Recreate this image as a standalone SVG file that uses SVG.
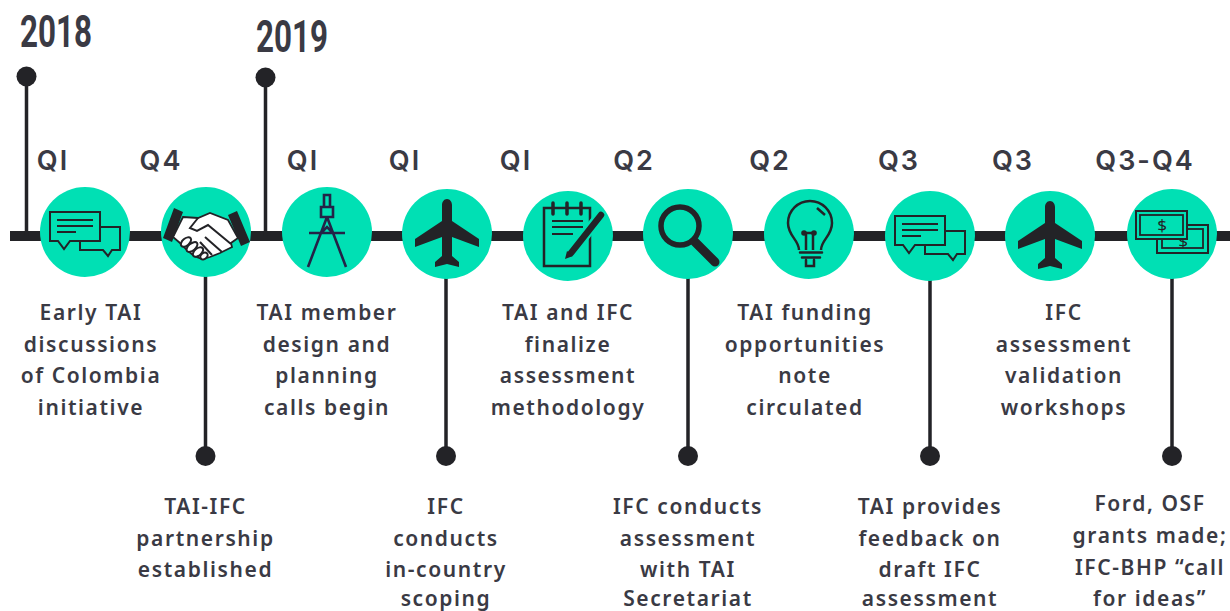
<svg xmlns="http://www.w3.org/2000/svg" width="1230" height="611" viewBox="0 0 1230 611">
<style>
text{font-family:"Noto Sans","Liberation Sans",sans-serif;fill:#3a3a44;text-anchor:middle}
.b{font-size:21px;font-weight:600;letter-spacing:1.6px}
.q{font-family:"Inter","Liberation Sans",sans-serif;font-size:27px;font-weight:600;letter-spacing:2px}
.y{font-family:"Roboto","Liberation Sans",sans-serif;font-size:44px;font-weight:700;text-anchor:start}
.disc{fill:#00e0b4}
.ln{fill:none;stroke:#232327;stroke-width:2}
.k{fill:#232327}
.conn{stroke:#232327;stroke-width:3.5;fill:none}
</style>
<defs>
<g id="chat"><path class="ln" d="M-35-20H15V9H-15L-21 17-27 9H-35Z"/><path class="ln" d="M15-5H35V18H27L23 24 18 18H-5V9"/><path class="ln" d="M-28-12H8M-28-6H8M-28 0H-9"/></g>
<path id="plane" class="k" d="M0-35C3-35 5-32 5-29V-13L32 5V13L5 3V22L12 28V33L0 30-12 33V28L-5 22V3L-32 13V5L-5-13V-29C-5-32-3-35 0-35Z"/>
</defs>
<g id="connectors">
<rect x="10" y="231" width="1220" height="10" fill="#232327"/>
<path class="conn" d="M26.5 77V236M265.5 78V236M205.5 270V456M446 270V456M688 270V456M930 270V456M1172 270V456"/>
<g class="k"><circle cx="26.5" cy="76.500" r="10"/><circle cx="265.500" cy="77.500" r="10"/><circle cx="205.500" cy="456" r="10"/><circle cx="446" cy="456" r="10"/><circle cx="688" cy="456" r="10"/><circle cx="930" cy="456" r="10"/><circle cx="1172" cy="456" r="10"/></g>
</g>
<g id="year-2018"><text class="y" x="20" y="47" textLength="72" lengthAdjust="spacingAndGlyphs">2018</text></g>
<g id="year-2019"><text class="y" x="256" y="52" textLength="72" lengthAdjust="spacingAndGlyphs">2019</text></g>

<g id="node-1"><text class="q" x="53" y="170">QI</text><circle class="disc" cx="85" cy="232" r="45"/><use href="#chat" x="85" y="232"/>
<text class="b"><tspan x="91" y="320">Early TAI</tspan><tspan x="91" y="352">discussions</tspan><tspan x="91" y="383">of Colombia</tspan><tspan x="91" y="415">initiative</tspan></text></g>

<g id="node-2"><text class="q" x="161" y="170">Q4</text><circle class="disc" cx="206" cy="232" r="45"/>
<g transform="translate(206 232)"><path d="M-23-15L-8-14 4-19 22-12 32 6 25 11 26 15 14 21 4 25-4 27-12 24-19 18-26 11-33 5Z" fill="#fff" stroke="#232327" stroke-width="1.800"/>
<path class="ln" d="M-8-14L-16-4-9-1 2-7 25 12M-1 5L16 20M-6 10L6 23"/>
<g fill="#fff" stroke="#232327" stroke-width="2"><ellipse cx="-20" cy="10" rx="6" ry="3.500" transform="rotate(-40 -20 10)"/><ellipse cx="-14" cy="15" rx="6.500" ry="3.500" transform="rotate(-40 -14 15)"/><ellipse cx="-8" cy="20" rx="6" ry="3.500" transform="rotate(-40 -8 20)"/><ellipse cx="-2" cy="24" rx="4" ry="3" transform="rotate(-40 -2 24)"/></g>
<path class="k" d="M-32-24L-23-20-34 10-43 6ZM22-17L31-21 44 10 35 14Z"/></g>
<text class="b"><tspan x="205.500" y="514">TAI-IFC</tspan><tspan x="205.500" y="546">partnership</tspan><tspan x="205.500" y="577">established</tspan></text></g>

<g id="node-3"><text class="q" x="303" y="170">QI</text><circle class="disc" cx="327" cy="232" r="45"/>
<path transform="translate(327 232)" d="M-3-37H3V-25H-3ZM-6-25H6V-15H-6ZM0-15L-19 35M0-15L19 35M-18 1H18M-6 1L0-5 6 1" fill="none" stroke="#232347" stroke-width="2.600"/>
<text class="b"><tspan x="327" y="320">TAI member</tspan><tspan x="327" y="352">design and</tspan><tspan x="327" y="383">planning</tspan><tspan x="327" y="415">calls begin</tspan></text></g>

<g id="node-4"><text class="q" x="405" y="170">QI</text><circle class="disc" cx="447" cy="234" r="45"/><use href="#plane" x="447" y="234"/>
<text class="b"><tspan x="446" y="514">IFC</tspan><tspan x="446" y="546">conducts</tspan><tspan x="446" y="577">in-country</tspan><tspan x="446" y="606">scoping</tspan></text></g>

<g id="node-5"><text class="q" x="516" y="170">QI</text><circle class="disc" cx="568" cy="236" r="45"/>
<g transform="translate(568 236)"><path d="M-24-28H22V30H-24Z" fill="none" stroke="#232327" stroke-width="2.500"/><path d="M-15-33V-22M-1-33V-22M13-33V-22" stroke="#232327" stroke-width="3.500" stroke-linecap="round"/><path class="ln" d="M-16-15H15M-16-9H15M-16-2H5"/>
<path d="M32-20L2 18" stroke="#00e0b4" stroke-width="11"/><path d="M33-21L3 17" stroke="#232327" stroke-width="6.500" stroke-linecap="round"/><path class="k" d="M-1 15L5 20-3 23Z"/></g>
<text class="b"><tspan x="568" y="320">TAI and IFC</tspan><tspan x="568" y="352">finalize</tspan><tspan x="568" y="383">assessment</tspan><tspan x="568" y="415">methodology</tspan></text></g>

<g id="node-6"><text class="q" x="634" y="170">Q2</text><circle class="disc" cx="688" cy="234" r="45"/>
<circle cx="680" cy="226" r="19" fill="none" stroke="#232327" stroke-width="5.500"/><path d="M695 242L715 262" stroke="#232327" stroke-width="9" stroke-linecap="round"/>
<text class="b"><tspan x="688" y="514">IFC conducts</tspan><tspan x="688" y="546">assessment</tspan><tspan x="688" y="577">with TAI</tspan><tspan x="688" y="606">Secretariat</tspan></text></g>

<g id="node-7"><text class="q" x="770" y="170">Q2</text><circle class="disc" cx="809" cy="234" r="45"/>
<g fill="none" stroke="#232327" stroke-width="2.500"><path d="M799 250C799 240 788 236 788 223A22 22 0 0 1 832 223C832 236 821 240 821 250"/><path d="M806 233V250M813 233V250M804 233H814M817 208L825 215"/><path d="M800 252.500H822M802 257.500H820M806 260V266H814V260" stroke-linecap="round"/></g>
<circle class="k" cx="804" cy="233" r="2.800"/><circle class="k" cx="814" cy="233" r="2.800"/>
<text class="b"><tspan x="805" y="320">TAI funding</tspan><tspan x="805" y="352">opportunities</tspan><tspan x="805" y="383">note</tspan><tspan x="805" y="415">circulated</tspan></text></g>

<g id="node-8"><text class="q" x="899" y="170">Q3</text><circle class="disc" cx="930" cy="236" r="45"/><use href="#chat" x="930" y="236"/>
<text class="b"><tspan x="930" y="514">TAI provides</tspan><tspan x="930" y="546">feedback on</tspan><tspan x="930" y="577">draft IFC</tspan><tspan x="930" y="606">assessment</tspan></text></g>

<g id="node-9"><text class="q" x="1013" y="170">Q3</text><circle class="disc" cx="1050" cy="236" r="45"/><use href="#plane" x="1050" y="236"/>
<text class="b"><tspan x="1064" y="320">IFC</tspan><tspan x="1064" y="352">assessment</tspan><tspan x="1064" y="383">validation</tspan><tspan x="1064" y="415">workshops</tspan></text></g>

<g id="node-10"><text class="q" x="1145" y="170">Q3-Q4</text><circle class="disc" cx="1172" cy="234" r="45"/>
<rect x="1157" y="225" width="51" height="28" fill="none" stroke="#232327" stroke-width="2"/><rect x="1162" y="229" width="41" height="19" fill="none" stroke="#232327" stroke-width="1.800"/>
<text x="1183" y="247" style="font-size:17px;font-weight:400;fill:#232327">$</text>
<rect x="1136" y="211" width="51" height="28" fill="#00e0b4" stroke="#232327" stroke-width="2"/><rect x="1140" y="215" width="43" height="20" fill="none" stroke="#232327" stroke-width="1.800"/>
<text x="1162" y="231" style="font-size:17px;font-weight:400;fill:#232327">$</text>
<text class="b"><tspan x="1150" y="511">Ford, OSF</tspan><tspan x="1150" y="543">grants made;</tspan><tspan x="1150" y="575">IFC-BHP “call</tspan><tspan x="1150" y="606">for ideas”</tspan></text></g>
</svg>
